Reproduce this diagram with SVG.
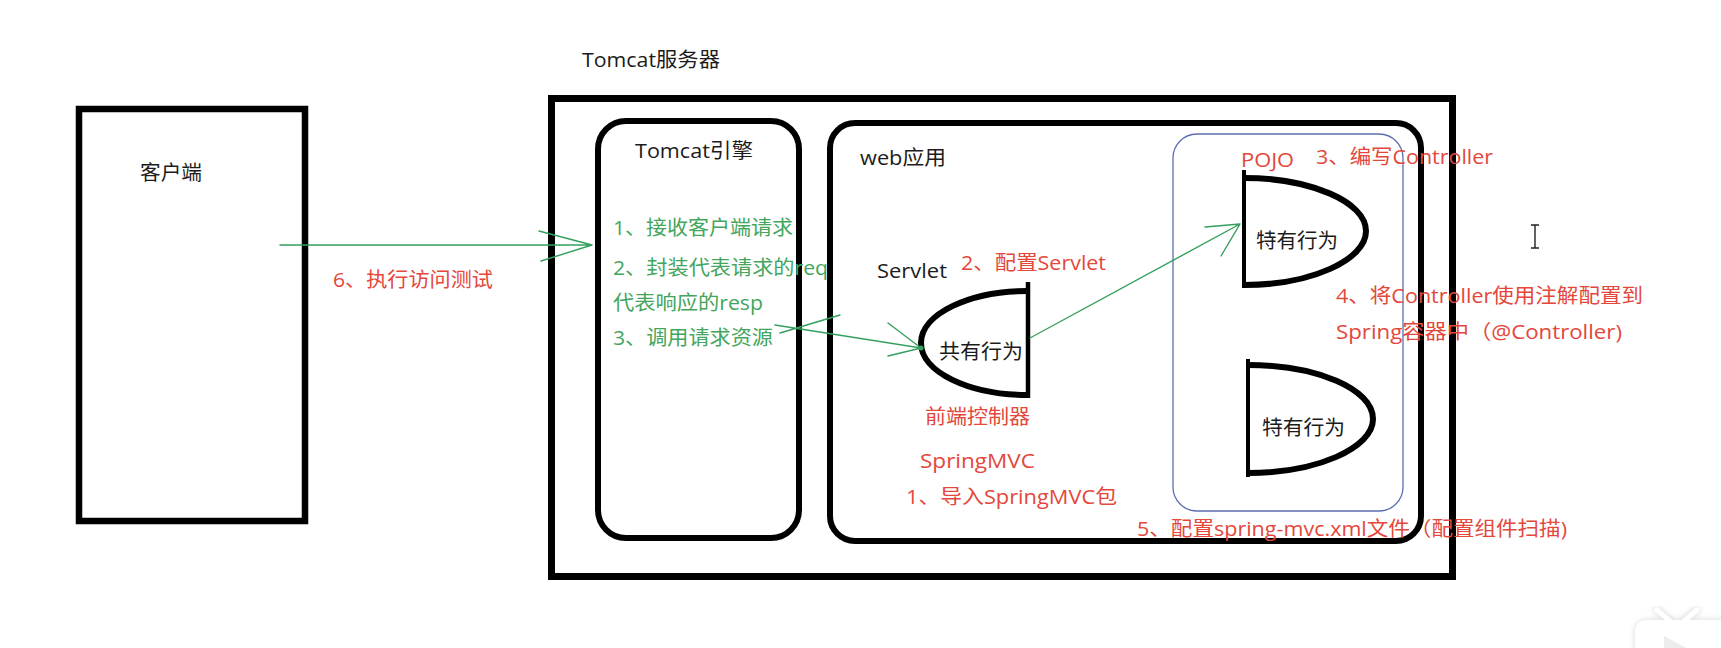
<svg xmlns="http://www.w3.org/2000/svg" width="1721" height="648" viewBox="0 0 1721 648">
  <style>
    text { font-family: "Open Sans", "Noto Sans CJK SC", sans-serif; font-size: 20px; }
    .k { fill: #1c1c1c; }
    .r { fill: #e4473b; }
    .g { fill: #43a65c; }
    .box { fill: none; stroke: #000; }
    .shape { fill: none; stroke: #000; stroke-linejoin: round; }
    .conn { fill: none; stroke: #35a05e; stroke-width: 1.4; stroke-linecap: round; }
  </style>
  <defs>
    <filter id="soft" x="-30%" y="-30%" width="160%" height="160%">
      <feGaussianBlur stdDeviation="3"/>
    </filter>
  </defs>
  <rect width="1721" height="648" fill="#fff"/>

  <g id="client">
    <rect class="box" x="79" y="109" width="226" height="412" stroke-width="6.5"/>
    <text class="k" x="140" y="180" textLength="62" lengthAdjust="spacingAndGlyphs">客户端</text>
  </g>

  <g id="tomcat-server">
    <text class="k" x="582" y="67" textLength="138" lengthAdjust="spacingAndGlyphs">Tomcat服务器</text>
    <rect class="box" x="551.5" y="98.5" width="901" height="478" stroke-width="7"/>
  </g>

  <g id="tomcat-engine">
    <rect class="box" x="598" y="121" width="201" height="417" rx="28" ry="28" stroke-width="6"/>
    <text class="k" x="635" y="158" textLength="118" lengthAdjust="spacingAndGlyphs">Tomcat引擎</text>
    <text class="g" x="613" y="235" textLength="180" lengthAdjust="spacingAndGlyphs">1、接收客户端请求</text>
    <text class="g" x="613" y="275" textLength="215" lengthAdjust="spacingAndGlyphs">2、封装代表请求的req</text>
    <text class="g" x="613" y="310" textLength="150" lengthAdjust="spacingAndGlyphs">代表响应的resp</text>
    <text class="g" x="613" y="345" textLength="160" lengthAdjust="spacingAndGlyphs">3、调用请求资源</text>
  </g>

  <g id="web-app">
    <rect class="box" x="830" y="123" width="591" height="418" rx="25" ry="25" stroke-width="6"/>
    <text class="k" x="860" y="165" textLength="86" lengthAdjust="spacingAndGlyphs">web应用</text>
    <text class="r" x="1137" y="536" textLength="430" lengthAdjust="spacingAndGlyphs">5、配置spring-mvc.xml文件（配置组件扫描)</text>
  </g>

  <g id="servlet">
    <text class="k" x="877" y="278" textLength="70" lengthAdjust="spacingAndGlyphs">Servlet</text>
    <text class="r" x="961" y="270" textLength="145" lengthAdjust="spacingAndGlyphs">2、配置Servlet</text>
    <path class="shape" d="M1028,282 L1028,398" stroke-width="4.5"/>
    <path class="shape" d="M1028,291 C969,291 921,314 921,343 C921,372 969,395 1028,395" stroke-width="6"/>
    <text class="k" x="939" y="359" textLength="84" lengthAdjust="spacingAndGlyphs">共有行为</text>
    <text class="r" x="925" y="424" textLength="105" lengthAdjust="spacingAndGlyphs">前端控制器</text>
    <text class="r" x="920" y="468" textLength="115" lengthAdjust="spacingAndGlyphs">SpringMVC</text>
    <text class="r" x="906" y="504" textLength="211" lengthAdjust="spacingAndGlyphs">1、导入SpringMVC包</text>
  </g>

  <g id="pojo-container">
    <rect x="1173" y="134" width="230" height="377" rx="24" ry="24" fill="none" stroke="#5d6db0" stroke-width="1.3"/>
    <text class="r" x="1241" y="167" textLength="53" lengthAdjust="spacingAndGlyphs">POJO</text>
    <text class="r" x="1316" y="164" textLength="177" lengthAdjust="spacingAndGlyphs">3、编写Controller</text>
  </g>

  <g id="controller-1">
    <path class="shape" d="M1244,170 L1244,288" stroke-width="4"/>
    <path class="shape" d="M1244,178 C1311,178 1366,202 1366,231 C1366,260 1311,285 1244,285" stroke-width="6"/>
    <text class="k" x="1256" y="248" textLength="82" lengthAdjust="spacingAndGlyphs">特有行为</text>
  </g>

  <g id="controller-2">
    <path class="shape" d="M1248,359 L1248,477" stroke-width="4"/>
    <path class="shape" d="M1248,365 C1317,365 1373,389 1373,419 C1373,448 1317,473 1248,473" stroke-width="6"/>
    <text class="k" x="1262" y="435" textLength="83" lengthAdjust="spacingAndGlyphs">特有行为</text>
  </g>

  <g id="annotation">
    <text class="r" x="1336" y="303" textLength="307" lengthAdjust="spacingAndGlyphs">4、将Controller使用注解配置到</text>
    <text class="r" x="1336" y="339" textLength="286" lengthAdjust="spacingAndGlyphs">Spring容器中（@Controller)</text>
  </g>

  <g id="connectors">
    <path class="conn" d="M280,245 L592,245 M539,231 L592,245 M541,261 L592,245"/>
    <path class="conn" d="M775,325 L921,348 M780,333 L840,315 M888,323 L921,348 M888,356 L921,348"/>
    <circle cx="921" cy="348" r="2.5" fill="#35a05e"/>
    <path class="conn" d="M1030,338 L1240,224 M1205,227 L1240,224 M1221,256 L1240,224"/>
  </g>

  <g id="label-test">
    <text class="r" x="333" y="287" textLength="160" lengthAdjust="spacingAndGlyphs">6、执行访问测试</text>
  </g>

  <g id="cursor">
    <path d="M1535,225 L1535,248 M1531,225 L1539,225 M1531,248 L1539,248" fill="none" stroke="#222" stroke-width="1.4"/>
  </g>

  <g id="corner-icon">
    <rect x="1635" y="620" width="100" height="60" rx="11" fill="#d8d8d8" filter="url(#soft)"/>
    <path d="M1657,610 L1670,621 M1697,610 L1684,621" stroke="#d8d8d8" stroke-width="6" stroke-linecap="round" filter="url(#soft)"/>
    <rect x="1635" y="620" width="100" height="60" rx="11" fill="#fff"/>
    <path d="M1657,610 L1670,621 M1697,610 L1684,621" stroke="#fff" stroke-width="5" stroke-linecap="round"/>
    <path d="M1664,636 L1686,648 L1664,648 Z" fill="#ececec"/>
  </g>
</svg>
